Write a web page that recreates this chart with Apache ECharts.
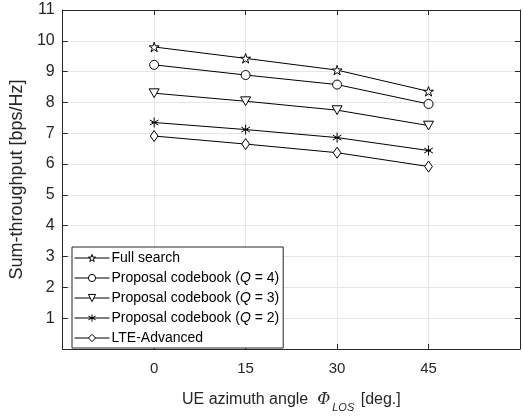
<!DOCTYPE html>
<html>
<head>
<meta charset="utf-8">
<script src="https://cdn.jsdelivr.net/npm/echarts@6/dist/echarts.min.js"></script>
<style>html,body{margin:0;padding:0;background:#fff;}#c{width:523px;height:418px;}</style>
</head>
<body>
<div id="c"></div>
<script>
var angles = [0, 15, 30, 45];
var fullSearch = [9.8, 9.43, 9.05, 8.36];
var proposalQ4 = [9.22, 8.89, 8.58, 7.95];
var proposalQ3 = [8.3, 8.04, 7.75, 7.25];
var proposalQ2 = [7.35, 7.12, 6.86, 6.44];
var lteAdvanced = [6.91, 6.65, 6.37, 5.92];
var seriesNames = ['Full search', 'Proposal codebook (Q = 4)', 'Proposal codebook (Q = 3)', 'Proposal codebook (Q = 2)', 'LTE-Advanced'];
var xTicks = [0, 15, 30, 45];
var yTicks = [1, 2, 3, 4, 5, 6, 7, 8, 9, 10, 11];

var FONT = '"Liberation Sans", Arial, sans-serif';
var STAR = 'path://M0,-1L0.2245,-0.309L0.9511,-0.309L0.3633,0.118L0.5878,0.809L0,0.382L-0.5878,0.809L-0.3633,0.118L-0.9511,-0.309L-0.2245,-0.309Z';
var TRI_DOWN = 'path://M-1,-0.8L1,-0.8L0,0.95Z';
var ASTER = 'path://M0,-1L0,1M-0.866,-0.5L0.866,0.5M-0.866,0.5L0.866,-0.5M-0.5,0L0.5,0';
var DIAMOND = 'path://M0,-1L0.7,0L0,1L-0.7,0Z';

function pair(arr) { return angles.map(function (a, i) { return [a, arr[i]]; }); }

var specs = [
  { data: fullSearch, symbol: STAR, size: 10 },
  { data: proposalQ4, symbol: 'circle', size: 9 },
  { data: proposalQ3, symbol: TRI_DOWN, size: 10 },
  { data: proposalQ2, symbol: ASTER, size: 10 },
  { data: lteAdvanced, symbol: DIAMOND, size: 11 }
];

var series = specs.map(function (s, i) {
  return {
    name: seriesNames[i],
    type: 'line',
    data: pair(s.data),
    symbol: s.symbol,
    symbolSize: s.size,
    symbolKeepAspect: true,
    showAllSymbol: true,
    lineStyle: { color: '#000', width: 1 },
    itemStyle: { color: '#fff', borderColor: '#000', borderWidth: 1 },
    emphasis: { disabled: true },
    animation: false,
    z: 3
  };
});

var legendFmt = {
  'Full search': 'Full search',
  'Proposal codebook (Q = 4)': 'Proposal codebook ({i|Q} = 4)',
  'Proposal codebook (Q = 3)': 'Proposal codebook ({i|Q} = 3)',
  'Proposal codebook (Q = 2)': 'Proposal codebook ({i|Q} = 2)',
  'LTE-Advanced': 'LTE-Advanced'
};

var axisColor = '#262626';
var chart = echarts.init(document.getElementById('c'), null, { renderer: 'canvas' });
chart.setOption({
  backgroundColor: '#fff',
  animation: false,
  grid: { left: 61, right: 3, top: 10, bottom: 61, containLabel: false },
  legend: {
    orient: 'vertical',
    left: 72,
    top: 247,
    width: 210,
    padding: [4, 4, 3, 2],
    itemWidth: 35,
    itemHeight: 9,
    itemGap: 6,
    borderColor: '#262626',
    borderWidth: 1,
    backgroundColor: '#fff',
    data: seriesNames,
    formatter: function (n) { return legendFmt[n]; },
    textStyle: {
      fontFamily: FONT, fontSize: 14, color: '#000', padding: [0, 0, 0, -3],
      rich: { i: { fontFamily: FONT, fontSize: 14, fontStyle: 'italic', color: '#000' } }
    },
    itemStyle: { color: '#fff', borderColor: '#000', borderWidth: 1 },
    lineStyle: { color: '#000', width: 1 }
  },
  xAxis: [{
    type: 'value', min: -15, max: 60, interval: 15, position: 'bottom',
    axisLine: { onZero: false, lineStyle: { color: axisColor, width: 1 } },
    axisTick: { inside: true, length: 5, lineStyle: { color: axisColor } },
    axisLabel: {
      margin: 12, fontFamily: FONT, fontSize: 15, color: axisColor,
      formatter: function (v) { return xTicks.indexOf(v) >= 0 ? String(v) : ''; }
    },
    splitLine: { show: true, lineStyle: { color: '#e6e6e6', width: 1 } },
    name: '{a|UE azimuth angle  }{p|Φ}{s|LOS}{a| [deg.]}',
    nameLocation: 'middle',
    nameGap: 38,
    nameTextStyle: {
      rich: {
        a: { fontFamily: FONT, fontSize: 16, color: axisColor },
        p: { fontFamily: '"DejaVu Serif", "Liberation Serif", serif', fontStyle: 'italic', fontSize: 16, color: axisColor, padding: [0, 2, 0, 0] },
        s: { fontFamily: FONT, fontStyle: 'italic', fontSize: 11, color: axisColor, padding: [15, 2, 0, 0] }
      }
    }
  }, {
    type: 'value', min: -15, max: 60, interval: 15, position: 'top',
    axisLine: { show: true, onZero: false, lineStyle: { color: axisColor, width: 1 } },
    axisTick: { inside: true, length: 5, lineStyle: { color: axisColor } },
    axisLabel: { show: false },
    splitLine: { show: false }
  }],
  yAxis: [{
    type: 'value', min: 0, max: 11, interval: 1, position: 'left',
    axisLine: { show: true, onZero: false, lineStyle: { color: axisColor, width: 1 } },
    axisTick: { show: true, inside: true, length: 5, lineStyle: { color: axisColor } },
    axisLabel: {
      margin: 8, fontFamily: FONT, fontSize: 16, color: axisColor,
      formatter: function (v) { return yTicks.indexOf(v) >= 0 ? String(v) : ''; }
    },
    splitLine: { show: true, lineStyle: { color: '#e6e6e6', width: 1 } },
    name: 'Sum-throughput [bps/Hz]',
    nameLocation: 'middle',
    nameGap: 33,
    nameTextStyle: { fontFamily: FONT, fontSize: 18, color: axisColor }
  }, {
    type: 'value', min: 0, max: 11, interval: 1, position: 'right',
    axisLine: { show: true, onZero: false, lineStyle: { color: axisColor, width: 1 } },
    axisTick: { show: true, inside: true, length: 5, lineStyle: { color: axisColor } },
    axisLabel: { show: false },
    splitLine: { show: false }
  }],
  series: series
});
</script>
</body>
</html>
